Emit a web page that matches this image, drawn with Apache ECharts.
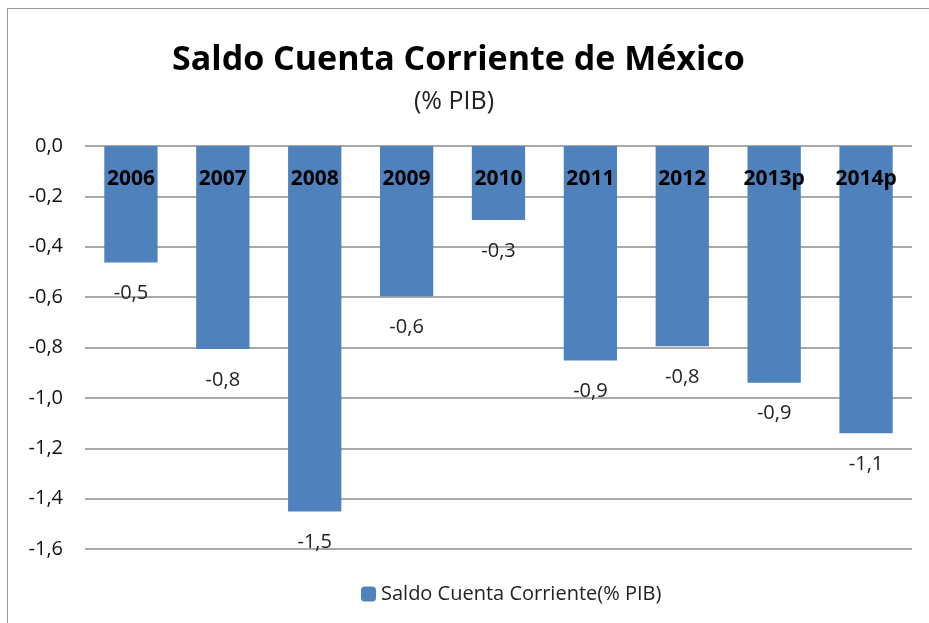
<!DOCTYPE html>
<html>
<head>
<meta charset="utf-8">
<script src="https://cdn.jsdelivr.net/npm/echarts@6/dist/echarts.min.js"></script>
<style>
  html, body { margin: 0; padding: 0; background: #fff; overflow: hidden; }
  #frame { position: absolute; left: 7px; top: 8px; width: 1000px; height: 700px; border: 1px solid #9a9a9a; box-sizing: border-box; }
  #chart { position: absolute; left: 0; top: 0; width: 929px; height: 623px; }
</style>
</head>
<body>
<div id="frame"></div>
<div id="chart"></div>
<script>
// datos (% PIB)
var years = ['2006', '2007', '2008', '2009', '2010', '2011', '2012', '2013p', '2014p']
var saldo = [-0.463, -0.806, -1.451, -0.597, -0.294, -0.852, -0.795, -0.94, -1.14]
var yTicks = [0, -0.2, -0.4, -0.6, -0.8, -1.0, -1.2, -1.4, -1.6]

var fmt = function (v) { return v.toFixed(1).replace('.', ',') }
var font = 'Open Sans'

var myChart = echarts.init(document.getElementById('chart'))
var option = {
  animation: false,
  title: [
    {
      text: 'Saldo Cuenta Corriente de México',
      left: 167,
      top: 38,
      textStyle: { fontFamily: font, fontSize: 34, fontWeight: 'bold', color: '#000' }
    },
    {
      text: '(% PIB)',
      left: 409,
      top: 84,
      textStyle: { fontFamily: font, fontSize: 25, fontWeight: 'normal', color: '#222' }
    }
  ],
  legend: {
    left: 356,
    top: 579,
    itemWidth: 15,
    itemHeight: 15,
    itemGap: 6,
    textStyle: { fontFamily: font, fontSize: 20, color: '#222' },
    data: ['Saldo Cuenta Corriente(% PIB)']
  },
  grid: { left: 85, right: 17, top: 146, bottom: 74 },
  xAxis: {
    type: 'category',
    position: 'top',
    z: 5,
    data: years,
    axisLine: { show: false },
    axisTick: { show: false },
    axisLabel: {
      inside: true,
      margin: 23,
      fontFamily: font,
      fontSize: 21,
      fontWeight: 'bold',
      color: '#000'
    }
  },
  yAxis: {
    type: 'value',
    min: -1.6,
    max: 0,
    interval: 0.2,
    axisLine: { show: false },
    axisTick: { show: false },
    splitLine: { lineStyle: { color: '#8c8c8c', width: 1.5 } },
    axisLabel: {
      margin: 22,
      fontFamily: font,
      fontSize: 20,
      color: '#111',
      formatter: function (v) { return fmt(v) }
    }
  },
  series: [
    {
      name: 'Saldo Cuenta Corriente(% PIB)',
      type: 'bar',
      data: saldo,
      barCategoryGap: '42%',
      itemStyle: { color: '#4f81bd' },
      label: {
        show: true,
        position: 'bottom',
        distance: 21,
        fontFamily: font,
        fontSize: 20,
        color: '#222',
        formatter: function (p) { return fmt(p.value) }
      }
    }
  ]
}
myChart.setOption(option)
</script>
</body>
</html>
